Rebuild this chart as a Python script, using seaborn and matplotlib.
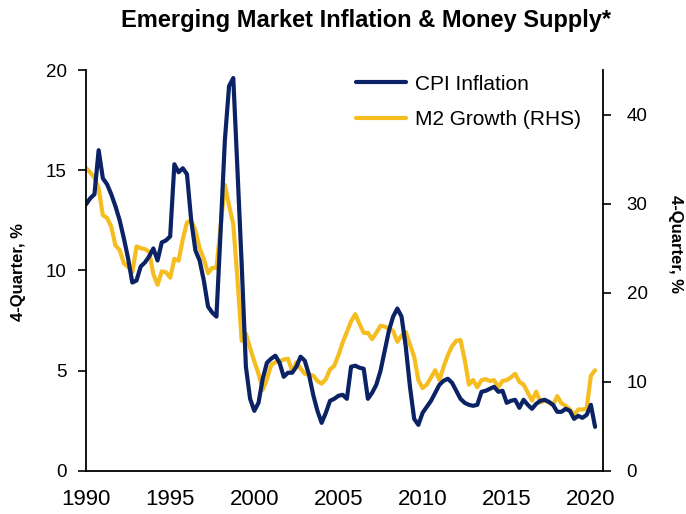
import numpy as np
import pandas as pd
import matplotlib
matplotlib.use("Agg")
import matplotlib.pyplot as plt
import seaborn as sns

sns.set_style("white")
plt.rcParams["font.family"] = ["Liberation Sans", "DejaVu Sans"]
plt.rcParams["text.color"] = "black"
plt.rcParams["axes.labelcolor"] = "black"
plt.rcParams["xtick.color"] = "black"
plt.rcParams["ytick.color"] = "black"

# quarterly, 1990Q1 .. 2020Q2
cpi = [13.3, 13.6, 13.8, 16.0, 14.6, 14.3, 13.8, 13.2, 12.5, 11.6,
       10.6, 9.4, 9.5, 10.2, 10.4, 10.7, 11.1, 10.5, 11.4, 11.5,
       11.7, 15.3, 14.9, 15.1, 14.8, 12.5, 11.0, 10.5, 9.5, 8.2,
       7.9, 7.7, 12.0, 16.5, 19.2, 19.6, 15.0, 10.3, 5.2, 3.6,
       3.0, 3.4, 4.6, 5.4, 5.6, 5.75, 5.4, 4.7, 4.9, 4.9,
       5.2, 5.7, 5.5, 4.8, 3.8, 3.0, 2.4, 2.9, 3.5, 3.6,
       3.75, 3.8, 3.6, 5.2, 5.25, 5.15, 5.1, 3.6, 3.9, 4.3,
       5.0, 6.0, 7.0, 7.7, 8.1, 7.7, 6.2, 4.2, 2.6, 2.3,
       2.9, 3.2, 3.5, 3.9, 4.3, 4.5, 4.6, 4.4, 4.0, 3.6,
       3.4, 3.3, 3.25, 3.3, 3.95, 4.0, 4.1, 4.2, 3.95, 4.0,
       3.4, 3.5, 3.55, 3.15, 3.55, 3.3, 3.1, 3.35, 3.5, 3.55,
       3.45, 3.3, 2.95, 2.95, 3.1, 3.0, 2.6, 2.75, 2.65, 2.8,
       3.3, 2.2]
m2 = [34.0, 33.5, 32.9, 31.7, 28.7, 28.4, 27.4, 25.3, 24.8, 23.3,
      22.9, 22.3, 25.2, 25.0, 24.9, 24.6, 22.1, 20.9, 22.4, 22.3,
      21.7, 23.8, 23.6, 26.0, 27.9, 28.1, 27.0, 25.0, 23.8, 22.2,
      22.8, 22.8, 27.5, 32.1, 29.8, 27.7, 21.5, 14.6, 15.4, 13.8,
      12.3, 10.9, 9.1, 10.3, 11.9, 12.2, 12.3, 12.5, 12.6, 11.2,
      12.2, 11.5, 10.9, 10.8, 10.7, 10.1, 9.8, 10.3, 11.4, 11.8,
      13.0, 14.4, 15.6, 16.8, 17.6, 16.5, 15.5, 15.5, 14.8, 15.5,
      16.3, 16.2, 16.0, 15.7, 14.5, 15.2, 15.6, 14.2, 12.8, 10.2,
      9.3, 9.7, 10.5, 11.3, 10.2, 11.7, 13.0, 14.0, 14.6, 14.7,
      12.5, 9.7, 10.2, 9.4, 10.2, 10.3, 10.1, 10.2, 9.4, 10.1,
      10.2, 10.5, 10.9, 10.0, 9.7, 8.8, 7.9, 8.9, 7.7, 7.9,
      7.7, 7.4, 8.4, 7.6, 7.3, 6.9, 6.3, 6.9, 6.9, 7.0,
      10.7, 11.3]
years = 1990 + np.arange(len(cpi)) / 4.0
df = pd.DataFrame({"year": years, "CPI Inflation": cpi, "M2 Growth (RHS)": m2})

navy = "#0B2265"
gold = "#F5BD1F"

fig = plt.figure(figsize=(6.86, 5.14), dpi=100)
ax = fig.add_axes([0.1254, 0.0837, 0.7536, 0.7801])
ax2 = ax.twinx()

sns.lineplot(data=df, x="year", y="M2 Growth (RHS)", ax=ax2, color=gold, lw=3.0,
             label="M2 Growth (RHS)", legend=False)
sns.lineplot(data=df, x="year", y="CPI Inflation", ax=ax, color=navy, lw=3.0,
             label="CPI Inflation", legend=False)
ax.set_zorder(ax2.get_zorder() + 1)
ax.patch.set_visible(False)

ax.set_xlim(1990, 2020.72)
ax.set_ylim(0, 20)
ax2.set_ylim(0, 45)
ax.set_xticks(range(1990, 2021, 5))
ax.set_yticks(range(0, 21, 5))
ax2.set_yticks(range(0, 41, 10))

for a in (ax, ax2):
    a.spines["top"].set_visible(False)
    for s in a.spines.values():
        s.set_color("black")
        s.set_linewidth(1.3)
ax.spines["right"].set_visible(False)
ax2.spines["left"].set_visible(False)
ax2.spines["bottom"].set_visible(False)

ax.tick_params(axis="x", direction="in", length=6, width=1.2, labelsize=16, pad=13)
ax.tick_params(axis="y", direction="out", length=6, width=1.2, labelsize=13.5, pad=8)
ax2.tick_params(axis="y", direction="out", length=6, width=1.2, labelsize=13.5, pad=11)

ax.set_xlabel("")
ax.set_ylabel("4-Quarter, %", fontsize=12, fontweight="bold")
ax2.set_ylabel("4-Quarter, %", fontsize=12, fontweight="bold", rotation=-90)
ax.yaxis.set_label_coords(-0.131, 0.496)
ax2.yaxis.set_label_coords(1.141, 0.566)
ax2.yaxis.label.set_va("center")
ax.yaxis.label.set_va("center")

h1, l1 = ax.get_legend_handles_labels()
h2, l2 = ax2.get_legend_handles_labels()
ax.legend(h1 + h2, l1 + l2, loc="upper left", bbox_to_anchor=(0.486, 1.035), frameon=False,
          fontsize=15, handlelength=2.4, handletextpad=0.45, labelspacing=0.8)

fig.text(0.533, 0.961, "Emerging Market Inflation & Money Supply*", ha="center", va="center",
         fontsize=17, fontweight="bold")

fig.savefig("out.png", dpi=100)
